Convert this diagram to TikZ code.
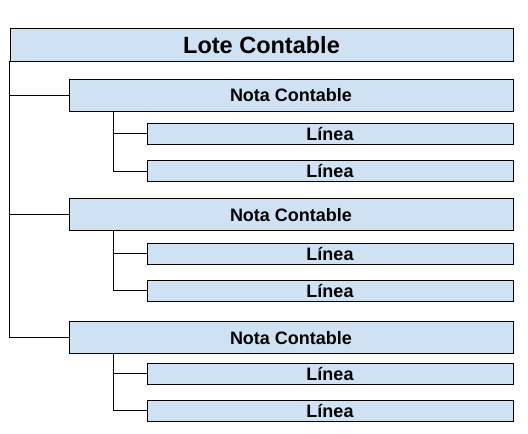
\documentclass[tikz,border=0pt]{standalone}
\usepackage{fontspec}
\setmainfont{Liberation Sans}
\definecolor{boxblue}{HTML}{CFE2F3}
\tikzstyle{every node}=[fill=boxblue,draw=black,shape=rectangle,inner sep=0pt,text depth=0pt,font=\bfseries\fontsize{18}{20}\selectfont]
\tikzstyle{lote}=[minimum width=503pt,minimum height=33pt,font=\bfseries\fontsize{23.5}{26}\selectfont]
\tikzstyle{nota}=[minimum width=444pt,minimum height=32pt]
\tikzstyle{linea}=[minimum width=366pt,minimum height=21pt]

\begin{document}
\begin{tikzpicture}[x=1pt, y=-1pt, line width=0.9pt]
	\useasboundingbox (0,0) rectangle (528,434);
	\node (l) [lote] at (261.5,44.5) {Lote Contable};
	\node (n1) [nota] at (291,95) {Nota Contable};
	\node (n1a) [linea] at (330,133.8) {Línea};
	\node (n1b) [linea] at (330,171) {Línea};
	\node (n2) [nota] at (291,214.5) {Nota Contable};
	\node (n2a) [linea] at (330,253.5) {Línea};
	\node (n2b) [linea] at (330,290.5) {Línea};
	\node (n3) [nota] at (291,337.5) {Nota Contable};
	\node (n3a) [linea] at (330,373.7) {Línea};
	\node (n3b) [linea] at (330,410.5) {Línea};
	\draw (l.south west) |- (n1.west)
	(l.south west) |- (n2.west)
	(l.south west) |- (n3.west);
	\draw ([xshift=44.7pt]n1.south west) |- (n1a.west)
	([xshift=44.7pt]n1.south west) |- (n1b.west)
	([xshift=44.7pt]n2.south west) |- (n2a.west)
	([xshift=44.7pt]n2.south west) |- (n2b.west)
	([xshift=44.7pt]n3.south west) |- (n3a.west)
	([xshift=44.7pt]n3.south west) |- (n3b.west);
\end{tikzpicture}
\end{document}
